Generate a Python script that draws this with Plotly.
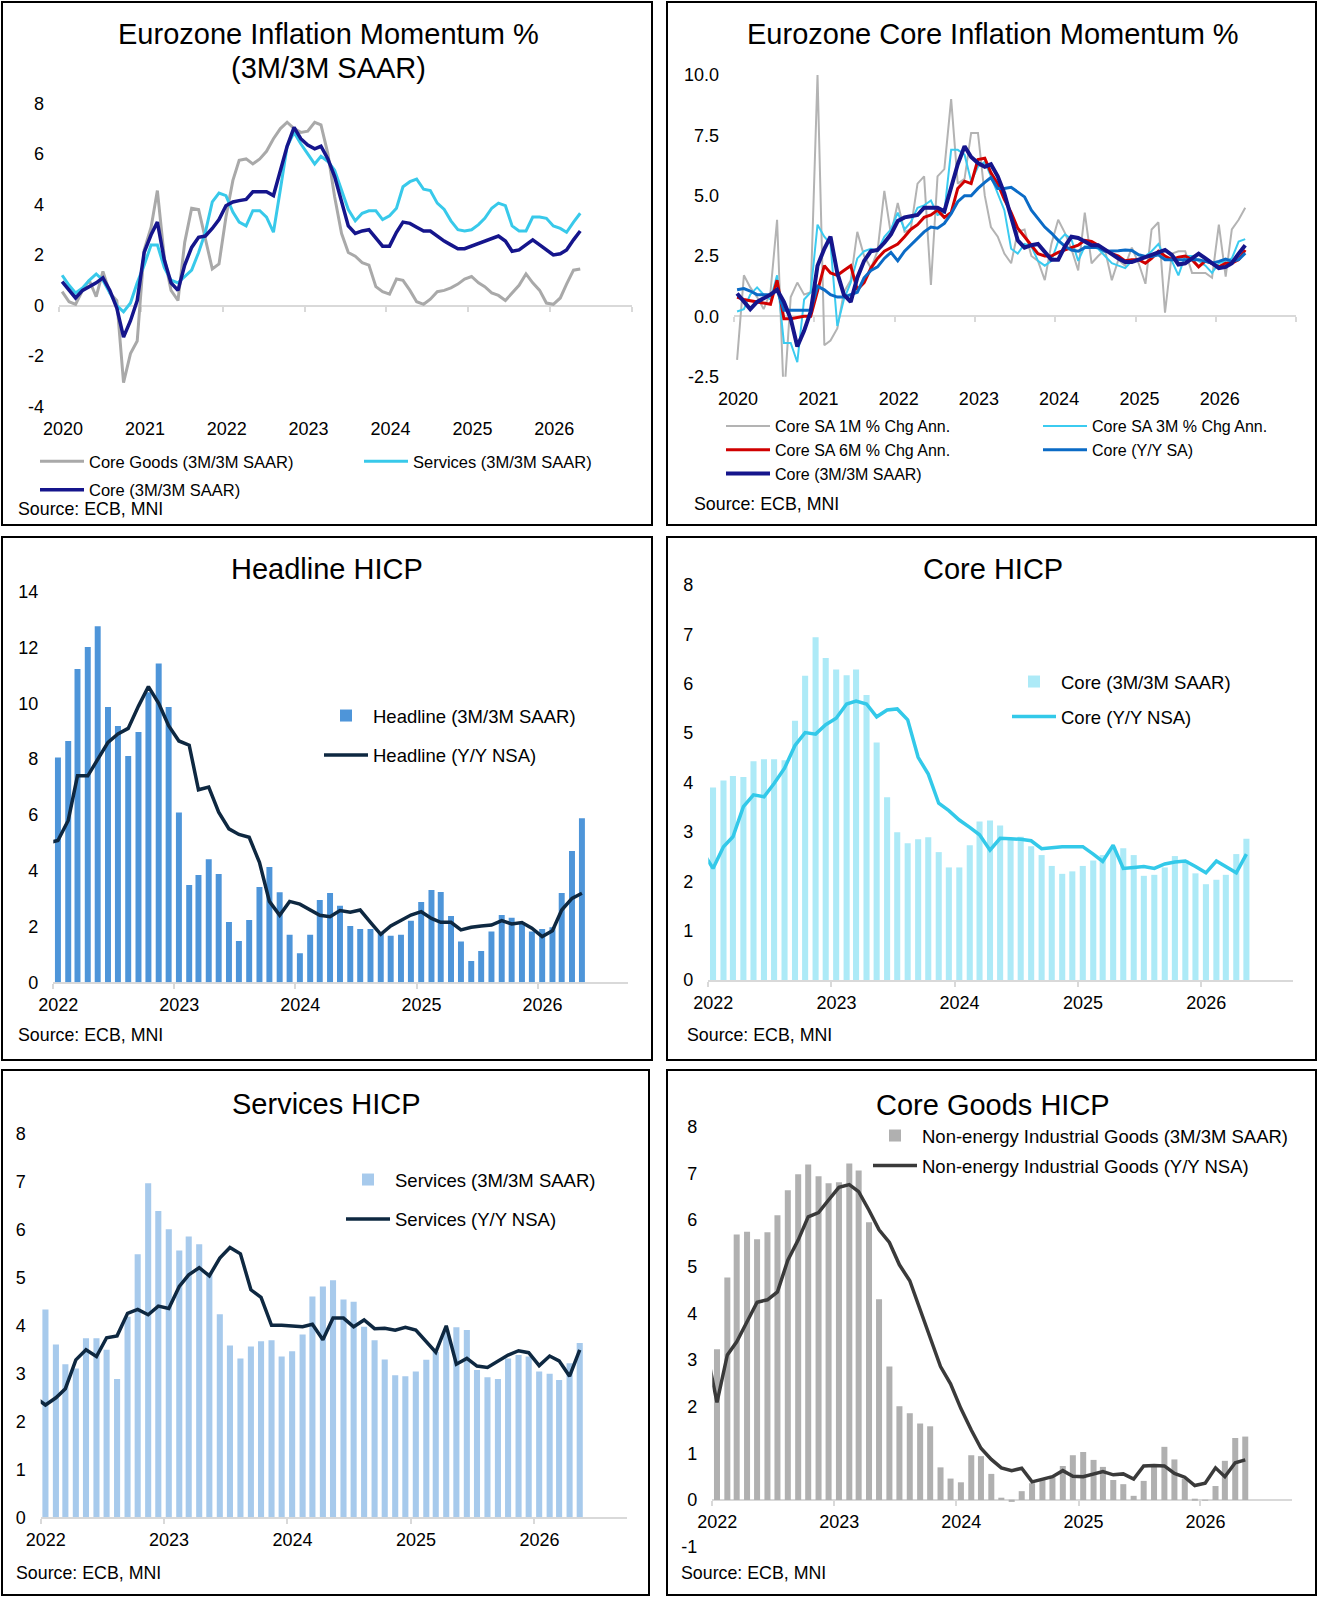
import pandas as pd
import plotly.graph_objects as go

W, H = 1320, 1598
FONT = "Liberation Sans, Arial, sans-serif"
AXC = "#D9D9D9"

# ---------------- data ----------------
months_2020 = pd.date_range("2020-01-01", periods=77, freq="MS") + pd.Timedelta(days=14)
months_2022 = pd.date_range("2022-01-01", periods=53, freq="MS") + pd.Timedelta(days=14)
months_2022_line = pd.date_range("2021-12-01", periods=54, freq="MS") + pd.Timedelta(days=14)

years_p1 = ["2020-01-01", "2021-01-01", "2022-01-01", "2023-01-01", "2024-01-01", "2025-01-01", "2026-01-01"]
year_labels_p1 = ["2020", "2021", "2022", "2023", "2024", "2025", "2026"]
y1_ticks = [-4, -2, 0, 2, 4, 6, 8]
y1_labels = ["-4", "-2", "0", "2", "4", "6", "8"]
y2_ticks = [-2.5, 0, 2.5, 5, 7.5, 10]
y2_labels = ["-2.5", "0.0", "2.5", "5.0", "7.5", "10.0"]
y6_ticks = [-1, 0, 1, 2, 3, 4, 5, 6, 7, 8]
y6_labels = ["-1", "0", "1", "2", "3", "4", "5", "6", "7", "8"]

core_goods_3m3m = [0.55, 0.15, 0.05, 0.6, 1.0, 0.35, 1.35, 0.5, 0.2, -3.05, -1.9, -1.4, 2.2, 3.1, 4.55, 1.9,
                   0.6, 0.2, 2.5, 3.85, 3.8, 2.7, 1.45, 1.65, 3.5, 4.95, 5.75, 5.8, 5.6, 5.8, 6.1, 6.6,
                   7.0, 7.25, 7.0, 6.85, 6.9, 7.25, 7.15, 6.0, 4.3, 2.85, 2.1, 1.95, 1.7, 1.6, 0.75, 0.55,
                   0.45, 1.05, 1.0, 0.6, 0.15, 0.05, 0.25, 0.55, 0.6, 0.7, 0.85, 1.05, 1.15, 0.9, 0.75, 0.5,
                   0.4, 0.2, 0.5, 0.8, 1.25, 0.9, 0.6, 0.1, 0.05, 0.3, 0.85, 1.4, 1.45]
services_3m3m = [1.2, 0.8, 0.5, 0.7, 1.0, 1.25, 1.0, 0.5, 0.0, -0.25, 0.1, 0.9, 1.6, 2.4, 2.4, 1.5,
                 1.0, 0.9, 1.15, 1.4, 2.1, 2.9, 4.1, 4.45, 4.35, 3.7, 3.3, 3.15, 3.75, 3.75, 3.5, 2.9,
                 4.6, 6.3, 6.85, 6.4, 6.0, 5.6, 5.9, 5.7, 5.35, 4.6, 3.8, 3.35, 3.65, 3.75, 3.75, 3.4,
                 3.55, 3.85, 4.7, 4.9, 5.0, 4.6, 4.55, 4.05, 3.8, 3.35, 3.0, 2.95, 3.0, 3.2, 3.45, 3.85,
                 4.05, 3.95, 3.15, 2.95, 2.95, 3.5, 3.5, 3.45, 3.15, 3.05, 2.9, 3.3, 3.65]
core_3m3m = [0.95, 0.6, 0.3, 0.6, 0.75, 0.9, 1.1, 0.6, -0.1, -1.25, -0.6, 0.2, 2.1, 2.8, 3.3, 1.8,
             0.9, 0.6, 1.6, 2.3, 2.7, 2.75, 3.05, 3.4, 3.95, 4.1, 4.15, 4.2, 4.5, 4.5, 4.5, 4.35,
             5.3, 6.3, 7.05, 6.6, 6.35, 6.2, 6.3, 5.8, 5.1, 4.05, 3.15, 2.85, 2.95, 3.0, 2.65, 2.35,
             2.35, 2.9, 3.3, 3.25, 3.1, 2.95, 2.95, 2.75, 2.55, 2.4, 2.25, 2.25, 2.35, 2.45, 2.55, 2.65,
             2.75, 2.55, 2.15, 2.2, 2.4, 2.6, 2.4, 2.2, 2.0, 2.05, 2.2, 2.6, 2.95]
core_1m_ann = [-1.8, 1.7, 1.2, 0.8, 0.3, 1.0, 4.0, -3.5, 0.8, 1.4, 0.9, 1.0, 10.0, -1.2, -1.0, -0.5,
               1.0, 1.5, 3.5, 2.5, 2.0, 2.7, 5.2, 3.4, 4.7, 3.5, 3.6, 5.5, 5.8, 1.3, 5.8, 6.1,
               9.0, 5.5, 5.7, 7.6, 7.6, 5.0, 3.7, 3.3, 2.6, 2.2, 3.5, 3.6, 2.5, 2.3, 1.5, 3.0,
               4.0, 3.45, 2.8, 1.9, 4.3, 2.2, 2.5, 2.75, 1.5, 2.35, 2.1, 2.85, 2.2, 1.35, 3.6, 3.9,
               0.15, 2.6, 2.7, 2.7, 1.8, 1.8, 1.8, 1.6, 3.8, 1.65, 3.6, 4.0, 4.5]
core_3m_ann = [0.2, 0.3, 0.9, 1.2, 0.9, 0.7, 1.7, -1.1, -1.1, -1.9, 0.7, 1.0, 3.8, 3.3, 3.0, -0.4,
               0.7, 1.4, 2.4, 2.7, 2.8, 2.7, 3.3, 3.6, 4.3, 3.6, 3.9, 4.5, 4.6, 4.8, 4.2, 4.3,
               6.9, 6.9, 6.7, 5.6, 6.2, 6.4, 5.8, 5.1, 4.4, 2.8, 2.6, 3.0, 2.9, 2.3, 2.1, 2.3,
               3.1, 3.4, 3.2, 2.3, 2.9, 2.9, 2.8, 2.5, 2.2, 2.1, 2.0, 2.3, 2.3, 2.5, 2.7, 3.0,
               2.4, 2.3, 1.7, 2.5, 2.5, 2.3, 2.1, 1.8, 2.2, 2.3, 2.4, 3.1, 3.2]
core_6m_ann = [0.8, 0.7, 0.65, 0.6, 0.55, 0.5, 1.5, -0.1, -0.1, -0.05, 0.0, 0.0, 1.0, 2.1, 1.8, 1.7,
               1.9, 2.1, 1.1, 1.4, 2.0, 2.4, 2.7, 2.85, 3.0, 3.3, 3.6, 3.8, 4.1, 4.2, 4.4, 4.1,
               4.3, 5.3, 5.6, 5.5, 6.5, 6.55, 5.95, 5.5, 4.85, 4.3, 3.65, 3.3, 2.95, 2.6, 2.5, 2.5,
               2.65, 2.75, 2.85, 2.95, 3.15, 3.1, 2.95, 2.75, 2.6, 2.5, 2.3, 2.35, 2.35, 2.2, 2.4, 2.7,
               2.5, 2.35, 2.45, 2.5, 2.35, 2.05, 2.3, 2.2, 2.05, 2.2, 2.2, 2.35, 2.75]
core_yoy_sa = [1.1, 1.15, 1.05, 0.9, 0.9, 0.9, 1.1, 0.25, 0.25, 0.25, 0.25, 0.25, 1.25, 1.1, 0.9, 0.8,
               0.8, 0.9, 1.0, 1.6, 1.9, 2.05, 2.4, 2.65, 2.3, 2.7, 2.95, 3.2, 3.5, 3.7, 3.65, 3.85,
               4.25, 4.75, 5.0, 5.0, 5.3, 5.55, 5.75, 5.3, 5.3, 5.35, 5.15, 4.95, 4.4, 4.05, 3.7, 3.45,
               3.15, 2.9, 2.75, 2.7, 2.85, 2.85, 2.85, 2.7, 2.7, 2.72, 2.75, 2.73, 2.55, 2.48, 2.48, 2.55,
               2.35, 2.35, 2.35, 2.37, 2.35, 2.35, 2.28, 2.2, 2.28, 2.37, 2.28, 2.35, 2.62]

headline_3m3m = [8.06, 8.65, 11.23, 12.02, 12.76, 9.87, 9.19, 8.11, 8.97, 10.4, 11.43, 9.87, 6.09, 3.49,
                 3.85, 4.41, 3.88, 2.16, 1.48, 2.23, 3.42, 4.13, 3.23, 1.70, 1.04, 1.70, 2.95, 3.2,
                 2.74, 2.02, 1.91, 1.91, 1.76, 1.67, 1.70, 2.21, 2.88, 3.31, 3.24, 2.38, 1.46, 0.76,
                 1.12, 1.82, 2.41, 2.31, 2.14, 1.82, 1.91, 1.97, 3.2, 4.71, 5.88]
headline_yoy = [5.0, 5.08, 5.8, 7.4, 7.4, 8.0, 8.6, 8.9, 9.1, 9.9, 10.6, 10.0, 9.2, 8.65, 8.5, 6.9, 7.0,
                6.1, 5.5, 5.3, 5.2, 4.3, 2.9, 2.4, 2.9, 2.8, 2.6, 2.4, 2.35, 2.57, 2.51, 2.59, 2.15,
                1.72, 2.02, 2.23, 2.41, 2.53, 2.29, 2.15, 2.15, 1.88, 1.97, 2.02, 2.05, 2.21, 2.09,
                2.14, 1.94, 1.64, 1.85, 2.59, 3.01, 3.19]
core_hicp_3m3m = [3.90, 4.04, 4.13, 4.11, 4.43, 4.47, 4.47, 4.45, 5.25, 6.16, 6.94, 6.52, 6.29, 6.17,
                  6.29, 5.77, 4.81, 3.70, 2.99, 2.77, 2.85, 2.89, 2.59, 2.28, 2.28, 2.73, 3.21, 3.23,
                  3.13, 2.84, 2.90, 2.71, 2.53, 2.31, 2.15, 2.20, 2.31, 2.42, 2.53, 2.70, 2.67, 2.53,
                  2.11, 2.13, 2.28, 2.51, 2.43, 2.16, 1.94, 2.03, 2.13, 2.55, 2.86]
core_hicp_yoy = [2.6, 2.26, 2.70, 2.90, 3.51, 3.75, 3.71, 3.98, 4.29, 4.75, 5.01, 4.98, 5.17, 5.30, 5.59,
                 5.65, 5.59, 5.33, 5.47, 5.49, 5.27, 4.51, 4.17, 3.58, 3.43, 3.24, 3.09, 2.94, 2.63,
                 2.87, 2.86, 2.85, 2.82, 2.66, 2.68, 2.70, 2.70, 2.70, 2.55, 2.40, 2.73, 2.26, 2.28,
                 2.30, 2.26, 2.35, 2.39, 2.41, 2.30, 2.17, 2.41, 2.30, 2.17, 2.55]
services_hicp_3m3m = [4.33, 3.60, 3.19, 3.10, 3.73, 3.73, 3.49, 2.88, 4.18, 5.48, 6.96, 6.38, 6.0, 5.56,
                      5.85, 5.69, 5.1, 4.23, 3.58, 3.31, 3.56, 3.67, 3.69, 3.35, 3.46, 3.81, 4.60, 4.81,
                      4.94, 4.54, 4.49, 3.97, 3.69, 3.29, 2.96, 2.94, 3.04, 3.28, 3.45, 3.9, 3.96, 3.90,
                      3.07, 2.92, 2.88, 3.31, 3.38, 3.35, 3.04, 2.99, 2.86, 3.21, 3.63]
services_hicp_yoy = [2.5, 2.34, 2.49, 2.68, 3.28, 3.49, 3.35, 3.74, 3.78, 4.25, 4.33, 4.22, 4.40, 4.35,
                     4.81, 5.05, 5.20, 5.03, 5.40, 5.62, 5.49, 4.74, 4.58, 4.0, 4.0, 3.98, 3.97, 4.02,
                     3.70, 4.15, 4.15, 3.97, 4.11, 3.93, 3.94, 3.90, 3.96, 3.90, 3.66, 3.44, 3.99, 3.19,
                     3.31, 3.15, 3.12, 3.26, 3.38, 3.47, 3.43, 3.16, 3.36, 3.26, 2.94, 3.49]
neig_3m3m = [3.23, 4.77, 5.69, 5.75, 5.59, 5.74, 6.10, 6.64, 6.98, 7.19, 6.94, 6.79, 6.81, 7.21, 7.06,
             5.95, 4.30, 2.86, 2.01, 1.86, 1.64, 1.58, 0.70, 0.46, 0.38, 0.96, 0.94, 0.56, 0.05, -0.04,
             0.19, 0.36, 0.43, 0.5, 0.73, 0.96, 1.03, 0.86, 0.71, 0.43, 0.34, 0.09, 0.41, 0.71, 1.14,
             0.87, 0.46, 0.02, -0.01, 0.30, 0.84, 1.33, 1.36]
neig_yoy = [3.2, 2.09, 3.11, 3.39, 3.82, 4.24, 4.29, 4.46, 5.14, 5.57, 6.07, 6.16, 6.43, 6.70, 6.76, 6.61,
            6.21, 5.79, 5.52, 5.04, 4.70, 4.09, 3.46, 2.86, 2.49, 1.96, 1.5, 1.11, 0.87, 0.69, 0.63,
            0.68, 0.39, 0.45, 0.50, 0.63, 0.51, 0.50, 0.56, 0.61, 0.54, 0.56, 0.45, 0.73, 0.74, 0.73,
            0.57, 0.49, 0.31, 0.36, 0.69, 0.50, 0.80, 0.86]


# ---------------- helpers ----------------
def pxx(p):
    return p / W


def pxy(p):
    return 1 - p / H


TICKF = dict(family=FONT, size=18, color="#000000")
BARW = 18 * 86400000

fig = go.Figure()

# Panel 1  (zero-line axis "x" carries gray/cyan, label axis "x7" carries navy on top)
fig.add_trace(go.Scatter(x=months_2020, y=core_goods_3m3m, name="Core Goods (3M/3M SAAR)", mode="lines",
                         line=dict(color="#A9A9A9", width=3), xaxis="x", yaxis="y",
                         legend="legend", legendgroup="p1a"))
fig.add_trace(go.Scatter(x=months_2020, y=services_3m3m, name="Services (3M/3M SAAR)", mode="lines",
                         line=dict(color="#38C9EA", width=3), xaxis="x", yaxis="y",
                         legend="legend2", legendgroup="p1b"))
fig.add_trace(go.Scatter(x=months_2020, y=core_3m3m, name="Core (3M/3M SAAR)", mode="lines",
                         line=dict(color="#15158C", width=3.5), xaxis="x7", yaxis="y",
                         legend="legend", legendgroup="p1c"))

# Panel 2
fig.add_trace(go.Scatter(x=months_2020, y=core_1m_ann, name="Core SA 1M % Chg Ann.", mode="lines",
                         line=dict(color="#B3B3B3", width=2), xaxis="x2", yaxis="y2",
                         legend="legend3", legendgroup="p2a"))
fig.add_trace(go.Scatter(x=months_2020, y=core_3m_ann, name="Core SA 3M % Chg Ann.", mode="lines",
                         line=dict(color="#3BCBF0", width=2), xaxis="x2", yaxis="y2",
                         legend="legend4", legendgroup="p2b"))
fig.add_trace(go.Scatter(x=months_2020, y=core_6m_ann, name="Core SA 6M % Chg Ann.", mode="lines",
                         line=dict(color="#D00000", width=3), xaxis="x2", yaxis="y2",
                         legend="legend3", legendgroup="p2c"))
fig.add_trace(go.Scatter(x=months_2020, y=core_yoy_sa, name="Core (Y/Y SA)", mode="lines",
                         line=dict(color="#0B6BC6", width=3), xaxis="x2", yaxis="y2",
                         legend="legend4", legendgroup="p2d"))
fig.add_trace(go.Scatter(x=months_2020, y=core_3m3m, name="Core (3M/3M SAAR)", mode="lines",
                         line=dict(color="#15158C", width=4), xaxis="x8", yaxis="y2",
                         legend="legend3", legendgroup="p2e"))

# Panel 3
fig.add_trace(go.Bar(x=months_2022, y=headline_3m3m, name="Headline (3M/3M SAAR)", width=BARW,
                     marker=dict(color="#4E95D9", line=dict(width=0)), xaxis="x3", yaxis="y3",
                     legend="legend5", legendgroup="p3a"))
fig.add_trace(go.Scatter(x=months_2022_line, y=headline_yoy, name="Headline (Y/Y NSA)", mode="lines",
                         line=dict(color="#0E2841", width=3.5), xaxis="x3", yaxis="y3",
                         legend="legend5", legendgroup="p3b"))

# Panel 4
fig.add_trace(go.Bar(x=months_2022, y=core_hicp_3m3m, name="Core (3M/3M SAAR)", width=BARW,
                     marker=dict(color="#ADEAF7", line=dict(width=0)), xaxis="x4", yaxis="y4",
                     legend="legend6", legendgroup="p4a"))
fig.add_trace(go.Scatter(x=months_2022_line, y=core_hicp_yoy, name="Core (Y/Y NSA)", mode="lines",
                         line=dict(color="#33C9E9", width=3.5), xaxis="x4", yaxis="y4",
                         legend="legend6", legendgroup="p4b"))

# Panel 5
fig.add_trace(go.Bar(x=months_2022, y=services_hicp_3m3m, name="Services (3M/3M SAAR)", width=BARW,
                     marker=dict(color="#A7CAEC", line=dict(width=0)), xaxis="x5", yaxis="y5",
                     legend="legend7", legendgroup="p5a"))
fig.add_trace(go.Scatter(x=months_2022_line, y=services_hicp_yoy, name="Services (Y/Y NSA)", mode="lines",
                         line=dict(color="#0E2841", width=3.5), xaxis="x5", yaxis="y5",
                         legend="legend7", legendgroup="p5b"))

# Panel 6
fig.add_trace(go.Bar(x=months_2022, y=neig_3m3m, name="Non-energy Industrial Goods (3M/3M SAAR)", width=BARW,
                     marker=dict(color="#B0B0B0", line=dict(width=0)), xaxis="x6", yaxis="y6",
                     legend="legend8", legendgroup="p6a"))
fig.add_trace(go.Scatter(x=months_2022_line, y=neig_yoy, name="Non-energy Industrial Goods (Y/Y NSA)",
                         mode="lines", line=dict(color="#3A3A3A", width=3.5), xaxis="x6", yaxis="y6",
                         legend="legend8", legendgroup="p6b"))


# ---------------- axes ----------------
def ydom(bottom, top):
    return [pxy(bottom), pxy(top)]


def zero_pos(dom, rng):
    return dom[0] + (0 - rng[0]) / (rng[1] - rng[0]) * (dom[1] - dom[0])


def yaxis(dom, rng, dtick, anchor, tv=None, tt=None):
    d = dict(domain=dom, range=rng, dtick=dtick, tick0=0, showgrid=False, zeroline=False, showline=False,
             ticks="", tickfont=TICKF, anchor=anchor, ticklabelstandoff=14, fixedrange=True, automargin=False)
    if tv is not None:
        d["tickvals"] = tv
        d["ticktext"] = tt
        d["tickmode"] = "array"
    return d


def xaxis_bottom(dom, rng, anchor):
    return dict(domain=dom, range=rng, type="date", dtick="M12", tick0="2022-01-01", tickformat="%Y",
                showline=True, linecolor=AXC, linewidth=2, ticks="outside", ticklen=5, tickwidth=1.5,
                tickcolor=AXC, showgrid=False, zeroline=False, anchor=anchor, tickfont=TICKF,
                ticklabelstandoff=0, ticklabelshift=5, fixedrange=True, automargin=False,
                layer="below traces")


R1 = ["2020-01-01", "2027-01-01"]
R3 = ["2022-01-01", "2026-10-01"]

y1d = ydom(406.7, 103.3)
y2d = ydom(376.7, 75.0)
y3d = ydom(982.3, 591.7)
y4d = ydom(980.0, 585.0)
y5d = ydom(1517.3, 1133.3)
y6d = ydom(1546.7, 1126.7)
yr1 = [-4, 8]
yr2 = [-2.5, 10]
yr6 = [-1, 8]


def zero_axis(dom_px, ydomain, yrange):
    return dict(domain=[pxx(dom_px[0]), pxx(dom_px[1])], range=R1, type="date", anchor="free",
                position=zero_pos(ydomain, yrange), showline=True, linecolor=AXC, linewidth=2,
                ticks="outside", ticklen=5, tickwidth=1.5, tickcolor=AXC, dtick="M12", tick0="2020-01-01",
                showticklabels=False, showgrid=False, zeroline=False, fixedrange=True, automargin=False,
                layer="below traces")


def label_axis(over, anchor):
    return dict(overlaying=over, anchor=anchor, side="bottom", range=R1, type="date", tickvals=years_p1,
                ticktext=year_labels_p1, showline=False, ticks="", showgrid=False, zeroline=False,
                tickfont=TICKF, ticklabelstandoff=9, ticklabelshift=4, fixedrange=True, automargin=False)


layout = dict(
    width=W, height=H, margin=dict(l=0, r=0, t=0, b=0, autoexpand=False),
    paper_bgcolor="white", plot_bgcolor="white",
    font=dict(family=FONT, color="#000000"),
    showlegend=True,
    xaxis=zero_axis((59, 632), y1d, yr1),
    xaxis7=label_axis("x", "y"),
    yaxis=yaxis(y1d, yr1, 2, "x", y1_ticks, y1_labels),
    xaxis2=zero_axis((734, 1296), y2d, yr2),
    xaxis8=label_axis("x2", "y2"),
    yaxis2=yaxis(y2d, yr2, 2.5, "x2", y2_ticks, y2_labels),
    xaxis3=xaxis_bottom([pxx(53.3), pxx(628)], R3, "y3"),
    yaxis3=yaxis(y3d, [0, 14], 2, "x3"),
    xaxis4=xaxis_bottom([pxx(708.3), pxx(1293.3)], R3, "y4"),
    yaxis4=yaxis(y4d, [0, 8], 1, "x4"),
    xaxis5=xaxis_bottom([pxx(40.7), pxx(626.7)], R3, "y5"),
    yaxis5=yaxis(y5d, [0, 8], 1, "x5"),
    xaxis6=dict(domain=[pxx(712.3), pxx(1291.7)], range=R3, type="date", anchor="free",
                position=zero_pos(y6d, yr6), dtick="M12", tick0="2022-01-01", tickformat="%Y",
                showline=True, linecolor=AXC, linewidth=2, ticks="outside", ticklen=5, tickwidth=1.5,
                tickcolor=AXC, showgrid=False, zeroline=False, tickfont=TICKF, ticklabelstandoff=0,
                ticklabelshift=5, fixedrange=True, automargin=False, layer="below traces"),
    yaxis6=yaxis(y6d, yr6, 1, "x6", y6_ticks, y6_labels),
)


def leg(x_px, y_px, size, gap):
    return dict(x=pxx(x_px), y=pxy(y_px), xanchor="left", yanchor="top", orientation="v",
                bgcolor="rgba(0,0,0,0)", borderwidth=0, font=dict(family=FONT, size=size, color="#000000"),
                tracegroupgap=gap, itemwidth=44, traceorder="grouped")


layout["legend"] = leg(35, 444, 16.5, 4)
layout["legend2"] = leg(359, 444, 16.5, 4)
layout["legend3"] = leg(721, 409, 16, 0)
layout["legend4"] = leg(1038, 409, 16, 0)
layout["legend5"] = leg(319, 697, 18.5, 12.5)
layout["legend6"] = leg(1007, 663, 18.5, 8)
layout["legend7"] = leg(341, 1161, 18.5, 12.5)
layout["legend8"] = leg(868, 1117, 18.5, 3)

# titles, sources, borders
ann = []
TITLE = dict(family=FONT, size=29, color="#000000")
SRC = dict(family=FONT, size=17.8, color="#000000")
titles = [
    ("Eurozone Inflation Momentum %", 328, 34),
    ("(3M/3M SAAR)", 328, 68),
    ("Eurozone Core Inflation Momentum %", 993, 34),
    ("Headline HICP", 327, 569),
    ("Core HICP", 993, 569),
    ("Services HICP", 326, 1104),
    ("Core Goods HICP", 993, 1105),
]
for t, xp, yp in titles:
    ann.append(dict(text=t, x=pxx(xp), y=pxy(yp), xref="paper", yref="paper", xanchor="center",
                    yanchor="middle", showarrow=False, font=TITLE))
sources = [(16, 509), (692, 503.5), (16, 1034.6), (685, 1034.6), (14, 1573), (679, 1573)]
for xp, yp in sources:
    ann.append(dict(text="Source: ECB, MNI", x=pxx(xp), y=pxy(yp), xref="paper", yref="paper",
                    xanchor="left", yanchor="middle", showarrow=False, font=SRC))
layout["annotations"] = ann

boxes = [(2, 2, 652, 525), (667, 2, 1316, 525), (2, 537, 652, 1060), (667, 537, 1316, 1060),
         (2, 1070, 649, 1595), (667, 1070, 1316, 1595)]
layout["shapes"] = [dict(type="rect", xref="paper", yref="paper", x0=pxx(a), x1=pxx(c), y0=pxy(d), y1=pxy(b),
                         line=dict(color="#000000", width=2), fillcolor="rgba(0,0,0,0)") for a, b, c, d in boxes]

fig.update_layout(**layout)
fig.write_html("out.html")
